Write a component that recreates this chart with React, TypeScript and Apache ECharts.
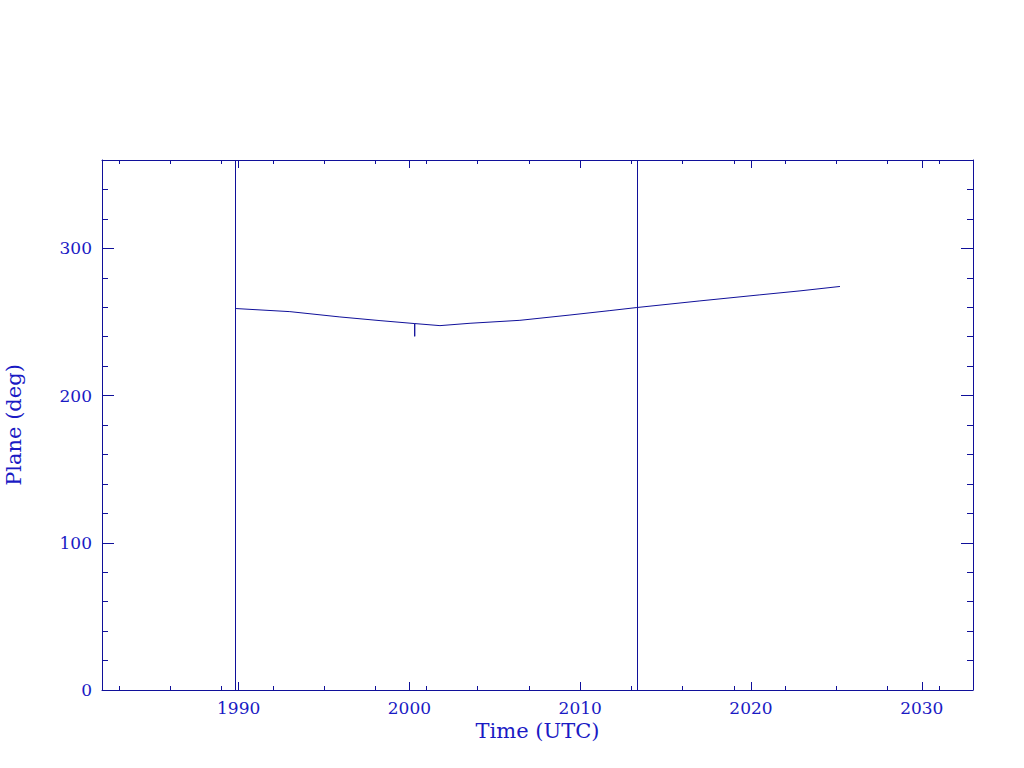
import React, { useEffect, useRef } from "react";
import * as echarts from "echarts";

const years = [1989.85, 1993.0, 1995.93, 1998.28, 2000.31, 2000.31, 2000.31, 2001.79, 2003.55, 2006.47, 2009.4, 2011.74, 2013.32, 2017.01, 2020.52, 2022.87, 2025.21];
const plane = [259.1, 257.0, 253.4, 250.9, 248.9, 240.2, 248.9, 247.5, 249.1, 251.1, 254.7, 257.7, 259.8, 264.3, 268.4, 271.1, 274.1];
const eventYears = [1989.82, 2013.32];
const xMajorTicks = [1990, 2000, 2010, 2020, 2030];
const xMinorTicks = [1983, 1986, 1989, 1992, 1995, 1998, 2001, 2004, 2007, 2010, 2013, 2016, 2019, 2022, 2025, 2028, 2031];
const yMajorTicks = [0, 100, 200, 300];
const yMinorTicks = [20, 40, 60, 80, 120, 140, 160, 180, 220, 240, 260, 280, 320, 340];

const LINE = "#10109a";
const TEXT = "#1a1ac4";
const FONT = "DejaVu Serif";

export default function App() {
  const ref = useRef<HTMLDivElement>(null);
  useEffect(() => {
    if (!ref.current) return;
    const chart = echarts.init(ref.current, null, { renderer: "svg" });
    const xBase = { type: "value", min: 1982, max: 2033, splitLine: { show: false } };
    const yBase = { type: "value", min: 0, max: 360, splitLine: { show: false } };
    const lineStyle = { color: LINE, width: 1 };
    const fmt = (v: number) => String(v);
    const mkX = (position: string, ticks: number[], len: number, labels: boolean, line: boolean, extra: any = {}) => ({
      ...xBase,
      position,
      axisLine: { show: line, onZero: false, lineStyle },
      axisTick: { show: true, inside: true, length: len, customValues: ticks, lineStyle },
      axisLabel: labels
        ? { show: true, customValues: xMajorTicks, formatter: fmt, color: TEXT, fontFamily: FONT, fontSize: 17, margin: 9 }
        : { show: false },
      ...extra,
    });
    const mkY = (position: string, ticks: number[], len: number, labels: boolean, line: boolean, extra: any = {}) => ({
      ...yBase,
      position,
      axisLine: { show: line, onZero: false, lineStyle },
      axisTick: { show: true, inside: true, length: len, customValues: ticks, lineStyle },
      axisLabel: labels
        ? { show: true, customValues: yMajorTicks, formatter: fmt, color: TEXT, fontFamily: FONT, fontSize: 17, margin: 10 }
        : { show: false },
      ...extra,
    });
    chart.setOption({
      animation: false,
      backgroundColor: "#ffffff",
      grid: { left: 102, right: 51, top: 160, bottom: 78, containLabel: false, outerBoundsMode: "none" },
      xAxis: [
        mkX("bottom", xMajorTicks, 8, true, true, {
          name: "Time (UTC)",
          nameLocation: "middle",
          nameGap: 29,
          nameTextStyle: { color: TEXT, fontFamily: FONT, fontSize: 21 },
        }),
        mkX("top", xMajorTicks, 8, false, true),
        mkX("bottom", xMinorTicks, 4, false, false),
        mkX("top", xMinorTicks, 4, false, false),
      ],
      yAxis: [
        mkY("left", yMajorTicks, 12, true, true, {
          name: "Plane (deg)",
          nameLocation: "middle",
          nameGap: 78,
          nameTextStyle: { color: TEXT, fontFamily: FONT, fontSize: 21 },
        }),
        mkY("right", yMajorTicks, 12, false, true),
        mkY("left", yMinorTicks, 6, false, false),
        mkY("right", yMinorTicks, 6, false, false),
      ],
      series: [
        {
          type: "line",
          xAxisIndex: 0,
          yAxisIndex: 0,
          data: years.map((y, i) => [y, plane[i]]),
          showSymbol: false,
          symbol: "none",
          lineStyle: { color: LINE, width: 1 },
          silent: true,
          markLine: {
            silent: true,
            symbol: "none",
            label: { show: false },
            lineStyle: { color: LINE, width: 1, type: "solid" },
            data: eventYears.map((x) => ({ xAxis: x })),
          },
        },
      ],
    });
    return () => chart.dispose();
  }, []);
  return <div ref={ref} style={{ position: "fixed", left: 0, top: 0, width: 1024, height: 768 }} />;
}
